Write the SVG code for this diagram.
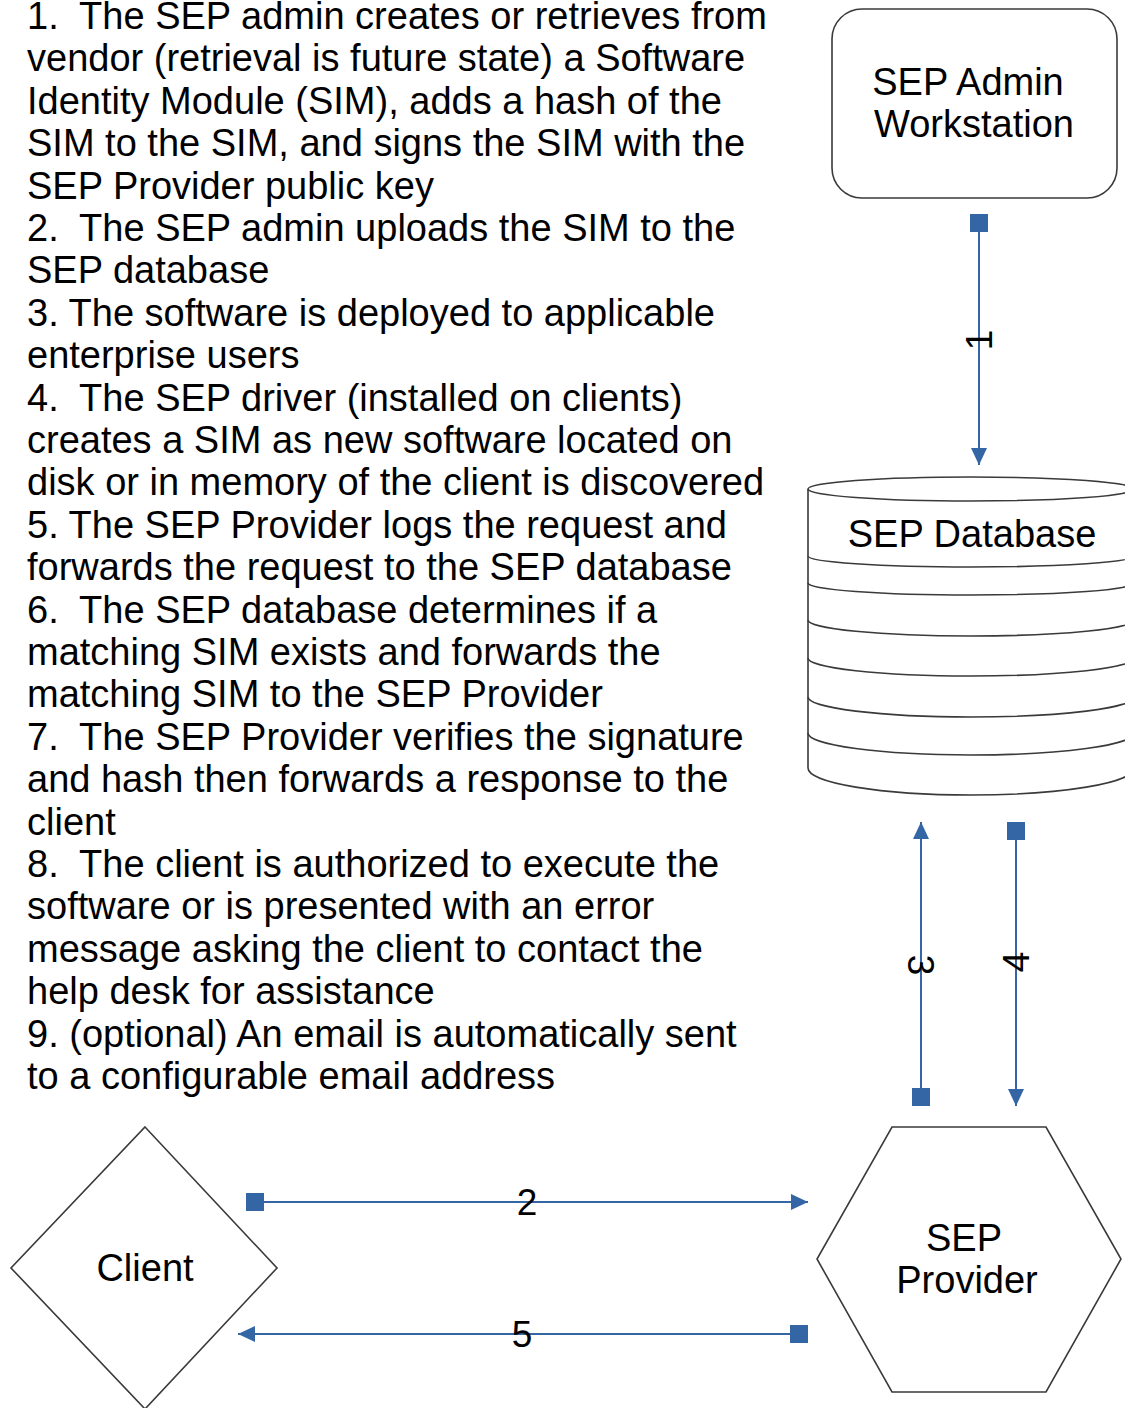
<svg xmlns="http://www.w3.org/2000/svg" width="1125" height="1408" viewBox="0 0 1125 1408">
<defs>
<style>
text{font-family:"Liberation Sans",Arial,sans-serif;fill:#000;}
.body{font-size:38px;}
.lbl{font-size:38px;text-anchor:middle;}
.shape{fill:#fff;stroke:#3a3a3a;stroke-width:1.6;}
.conn{stroke:#3465a4;stroke-width:2;fill:none;}
.clab{font-size:37px;text-anchor:middle;}
</style>
<marker id="arrow" markerUnits="userSpaceOnUse" markerWidth="18" markerHeight="17" refX="17" refY="8" orient="auto" viewBox="0 0 18 17">
<path d="M0,0 L17,8 L0,16 z" fill="#3465a4"/>
</marker>
<marker id="sq" markerUnits="userSpaceOnUse" markerWidth="18" markerHeight="18" refX="9" refY="9" orient="auto" viewBox="0 0 18 18">
<rect x="0" y="0" width="18" height="18" fill="#3465a4"/>
</marker>
</defs>
<rect width="1125" height="1408" fill="#fff"/>

<g id="steps" class="body">
<text x="27" y="29">1.&#160; The SEP admin creates or retrieves from</text>
<text x="27" y="71.4">vendor (retrieval is future state) a Software</text>
<text x="27" y="113.8">Identity Module (SIM), adds a hash of the</text>
<text x="27" y="156.2">SIM to the SIM, and signs the SIM with the</text>
<text x="27" y="198.6">SEP Provider public key</text>
<text x="27" y="241">2.&#160; The SEP admin uploads the SIM to the</text>
<text x="27" y="283.4">SEP database</text>
<text x="27" y="325.8">3. The software is deployed to applicable</text>
<text x="27" y="368.2">enterprise users</text>
<text x="27" y="410.6">4.&#160; The SEP driver (installed on clients)</text>
<text x="27" y="453">creates a SIM as new software located on</text>
<text x="27" y="495.4">disk or in memory of the client is discovered</text>
<text x="27" y="537.8">5. The SEP Provider logs the request and</text>
<text x="27" y="580.2">forwards the request to the SEP database</text>
<text x="27" y="622.6">6.&#160; The SEP database determines if a</text>
<text x="27" y="665">matching SIM exists and forwards the</text>
<text x="27" y="707.4">matching SIM to the SEP Provider</text>
<text x="27" y="749.8">7.&#160; The SEP Provider verifies the signature</text>
<text x="27" y="792.2">and hash then forwards a response to the</text>
<text x="27" y="834.6">client</text>
<text x="27" y="877">8.&#160; The client is authorized to execute the</text>
<text x="27" y="919.4">software or is presented with an error</text>
<text x="27" y="961.8">message asking the client to contact the</text>
<text x="27" y="1004.2">help desk for assistance</text>
<text x="27" y="1046.6">9. (optional) An email is automatically sent</text>
<text x="27" y="1089">to a configurable email address</text>
</g>

<g id="admin">
<rect class="shape" x="832" y="9" width="285" height="189" rx="30" ry="30"/>
<text class="lbl" x="968" y="95">SEP Admin</text>
<text class="lbl" x="974" y="137">Workstation</text>
</g>

<g id="database">
<path class="shape" d="M808,489 L808,768 A163,27 0 0 0 1134,768 L1134,489"/>
<ellipse class="shape" cx="971" cy="489" rx="163" ry="12"/>
<path class="shape" style="fill:none" d="M808,556 A163,11 0 0 0 1134,556 M808,583 A163,12 0 0 0 1134,583 M808,620 A163,16 0 0 0 1134,620 M808,658 A163,18 0 0 0 1134,658 M808,697 A163,20 0 0 0 1134,697 M808,733 A163,22 0 0 0 1134,733"/>
<text class="lbl" x="972" y="547">SEP Database</text>
</g>

<g id="client">
<polygon class="shape" points="145,1127 277,1268 145,1409 11,1268"/>
<text class="lbl" x="145" y="1281">Client</text>
</g>

<g id="provider">
<polygon class="shape" points="892,1127 1046,1127 1121,1259 1046,1392 892,1392 817,1259"/>
<text class="lbl" x="964" y="1251">SEP</text>
<text class="lbl" x="967" y="1293">Provider</text>
</g>

<g id="connectors">
<line class="conn" x1="979" y1="223" x2="979" y2="465" marker-start="url(#sq)" marker-end="url(#arrow)"/>
<text class="clab" transform="translate(979,340) rotate(-90)" y="13">1</text>
<line class="conn" x1="921" y1="1097" x2="921" y2="822" marker-start="url(#sq)" marker-end="url(#arrow)"/>
<text class="clab" transform="translate(921,965) rotate(90)" y="13">3</text>
<line class="conn" x1="1016" y1="831" x2="1016" y2="1106" marker-start="url(#sq)" marker-end="url(#arrow)"/>
<text class="clab" transform="translate(1016,962) rotate(-90)" y="13">4</text>
<line class="conn" x1="255" y1="1202" x2="808" y2="1202" marker-start="url(#sq)" marker-end="url(#arrow)"/>
<text class="clab" x="527" y="1215">2</text>
<line class="conn" x1="799" y1="1334" x2="238" y2="1334" marker-start="url(#sq)" marker-end="url(#arrow)"/>
<text class="clab" x="522" y="1347">5</text>
</g>
</svg>
